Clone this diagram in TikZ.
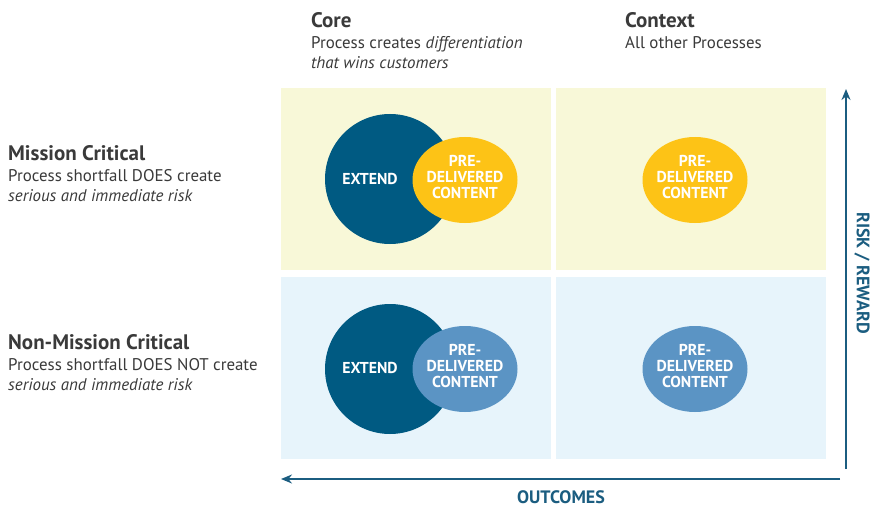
\documentclass[tikz,border=0pt]{standalone}
\usepackage{fontspec}
\setmainfont{PT Sans}
\usetikzlibrary{arrows.meta}
\definecolor{darkblue}{HTML}{005A82}
\definecolor{gold}{HTML}{FDC316}
\definecolor{midblue}{HTML}{5B94C4}
\definecolor{paleyellow}{HTML}{F8F8D8}
\definecolor{paleblue}{HTML}{E7F4FB}
\definecolor{axis}{HTML}{1B5D80}
\definecolor{txt}{HTML}{3A3A3A}
\tikzset{
  quad/.style={draw=none,minimum width=270pt,minimum height=182pt,inner sep=0},
  bigcirc/.style={circle,fill=darkblue,minimum size=130pt,inner sep=0},
  intext/.style={text=white,font=\fontsize{15.8}{16}\selectfont\bfseries,align=center},
  head/.style={text=txt,font=\fontsize{21}{22}\selectfont\bfseries,anchor=west,inner sep=0},
  sub/.style={text=txt,font=\fontsize{16.9}{20.5}\selectfont,anchor=north west,align=left,inner sep=0},
  axlabel/.style={text=axis,font=\fontsize{18}{20}\selectfont\bfseries},
  axarrow/.style={draw=axis,line width=1.6pt,-{Stealth[length=11pt,width=9pt]}}
}
\begin{document}
\begin{tikzpicture}[x=1pt,y=-1pt]
\useasboundingbox (0,0) rectangle (870,508);
\fill[white] (0,0) rectangle (870,508);
% quadrants
\node[quad,fill=paleyellow] (q1) at (416,179) {};
\node[quad,fill=paleyellow] (q2) at (691,179) {};
\node[quad,fill=paleblue] (q3) at (416,368) {};
\node[quad,fill=paleblue] (q4) at (691,368) {};
% top-left
\node[bigcirc] (c1) at (390,179) {};
\fill[gold] (465,180) ellipse (52.5 and 43);
\node[intext] (e1) at (370,179) {EXTEND};
\node[intext] (p1) at (465,177) {PRE-\\DELIVERED\\CONTENT};
% top-right
\fill[gold] (695,180) ellipse (52.5 and 43);
\node[intext] (p2) at (695,177) {PRE-\\DELIVERED\\CONTENT};
% bottom-left
\node[bigcirc] (c3) at (390,369) {};
\fill[midblue] (465,369) ellipse (52.5 and 43);
\node[intext] (e3) at (370,368) {EXTEND};
\node[intext] (p3) at (465,366) {PRE-\\DELIVERED\\CONTENT};
% bottom-right
\fill[midblue] (695,369) ellipse (52.5 and 43);
\node[intext] (p4) at (695,366) {PRE-\\DELIVERED\\CONTENT};
% column headings
\node[head] (core) at (311,20) {Core};
\node[sub] (coresub) at (311,36) {Process creates \textit{differentiation}\\\textit{that wins customers}};
\node[head] (ctx) at (625,20) {Context};
\node[sub] (ctxsub) at (625,36) {All other Processes};
% row headings
\node[head] (mc) at (8,153) {Mission Critical};
\node[sub] (mcsub) at (8,169) {Process shortfall DOES create\\\textit{serious and immediate risk}};
\node[head] (nmc) at (8,342) {Non-Mission Critical};
\node[sub] (nmcsub) at (8,358) {Process shortfall DOES NOT create\\\textit{serious and immediate risk}};
% axes
\coordinate (vb) at (846,469);
\coordinate (vt) at (846,89);
\coordinate (hr) at (840,479);
\coordinate (hl) at (281,479);
\draw[axarrow] (vb) -- (vt);
\draw[axarrow] (hr) -- (hl);
\node[axlabel,rotate=-90] (rr) at (862,273) {RISK / REWARD};
\node[axlabel] (out) at (561,497) {OUTCOMES};
\end{tikzpicture}
\end{document}
